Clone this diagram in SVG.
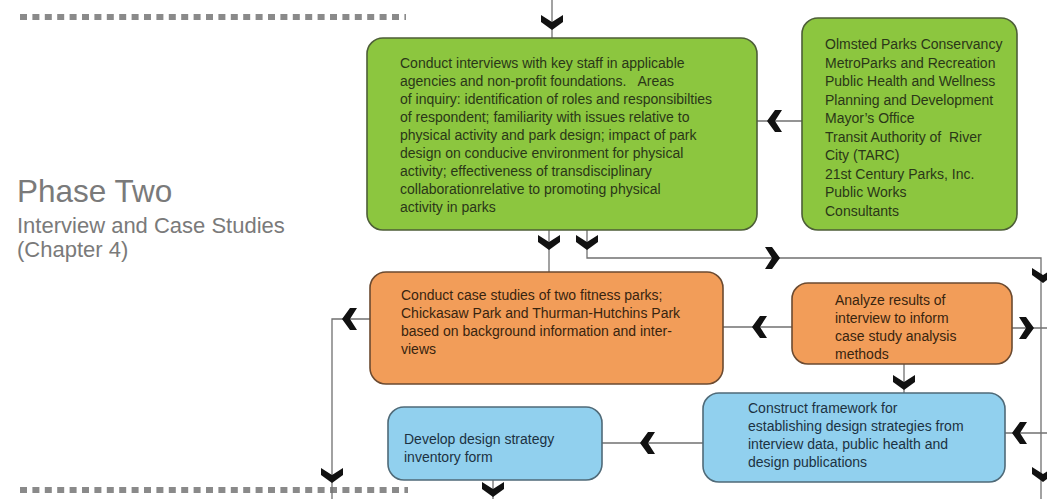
<svg xmlns="http://www.w3.org/2000/svg" xmlns:xlink="http://www.w3.org/1999/xlink" width="1047" height="499" viewBox="0 0 1047 499">
  <style>
    .conn { stroke:#707070; stroke-width:1.3; fill:none; }
    .chev { fill:#111; }
    .dots { stroke:#8a8a8a; stroke-width:6; stroke-dasharray:7 5.4; fill:none; }
    .box { stroke-width:1.6; }
    .green { fill:#8cc63f; stroke:#4d5e37; }
    .orange { fill:#f29d59; stroke:#6b4a30; }
    .blue { fill:#91d0ee; stroke:#4f6a78; }
    text { font-family:"Liberation Sans", Arial, sans-serif; font-size:14px; white-space:pre; }
    .tg { fill:#2a3718; }
    .to { fill:#38240f; }
    .tb { fill:#1c3242; }
    .title { fill:#7a7a7a; }
  </style>
  <defs>
    <path id="chev" d="M-11,-15 L0,-8 L11,-15 L11,-8 L0,0 L-11,-8 Z"/>
  </defs>
  <rect width="1047" height="499" fill="#ffffff"/>

  <g id="decor">
    <line class="dots" x1="20" y1="17" x2="406" y2="17"/>
    <line class="dots" x1="20" y1="490" x2="408" y2="490"/>
  </g>

  <g id="title">
    <text class="title" x="17" y="202" style="font-size:31.5px">Phase Two</text>
    <text class="title" x="17" y="233" style="font-size:22px">Interview and Case Studies</text>
    <text class="title" x="17" y="257" style="font-size:22px">(Chapter 4)</text>
  </g>

  <g id="connectors">
    <line class="conn" x1="552" y1="0" x2="552" y2="38"/>
    <line class="conn" x1="757" y1="121" x2="802" y2="121"/>
    <line class="conn" x1="549" y1="230" x2="549" y2="272"/>
    <polyline class="conn" points="587,230 587,258 1041,258 1041,499"/>
    <polyline class="conn" points="370,319 332,319 332,499"/>
    <line class="conn" x1="723" y1="327" x2="792" y2="327"/>
    <line class="conn" x1="1012" y1="328" x2="1047" y2="328"/>
    <line class="conn" x1="904" y1="364" x2="904" y2="393"/>
    <line class="conn" x1="1005" y1="433" x2="1047" y2="433"/>
    <line class="conn" x1="602" y1="443" x2="703" y2="443"/>
    <line class="conn" x1="493" y1="480" x2="493" y2="499"/>
    <use class="chev" href="#chev" transform="translate(552,30)"/>
    <use class="chev" href="#chev" transform="translate(767,121) rotate(90)"/>
    <use class="chev" href="#chev" transform="translate(549,250)"/>
    <use class="chev" href="#chev" transform="translate(587,250)"/>
    <use class="chev" href="#chev" transform="translate(780,258) rotate(-90)"/>
    <use class="chev" href="#chev" transform="translate(1043,283)"/>
    <use class="chev" href="#chev" transform="translate(1043,482)"/>
    <use class="chev" href="#chev" transform="translate(342,319) rotate(90)"/>
    <use class="chev" href="#chev" transform="translate(332,483)"/>
    <use class="chev" href="#chev" transform="translate(752,327) rotate(90)"/>
    <use class="chev" href="#chev" transform="translate(1034,328) rotate(-90)"/>
    <use class="chev" href="#chev" transform="translate(904,390)"/>
    <use class="chev" href="#chev" transform="translate(1012,433) rotate(90)"/>
    <use class="chev" href="#chev" transform="translate(640,443) rotate(90)"/>
    <use class="chev" href="#chev" transform="translate(493,497)"/>
  </g>

  <g id="interviews">
    <rect class="box green" x="367" y="38" width="390" height="192" rx="16"/>
    <text class="tg" x="400" y="68">Conduct interviews with key staff in applicable</text>
    <text class="tg" x="400" y="86">agencies and non-profit foundations.   Areas</text>
    <text class="tg" x="400" y="104">of inquiry: identification of roles and responsibilties</text>
    <text class="tg" x="400" y="122">of respondent; familiarity with issues relative to</text>
    <text class="tg" x="400" y="140">physical activity and park design; impact of park</text>
    <text class="tg" x="400" y="158">design on conducive environment for physical</text>
    <text class="tg" x="400" y="176">activity; effectiveness of transdisciplinary</text>
    <text class="tg" x="400" y="194">collaborationrelative to promoting physical</text>
    <text class="tg" x="400" y="212">activity in parks</text>
  </g>

  <g id="agencies">
    <rect class="box green" x="802" y="18" width="215" height="212" rx="16"/>
    <text class="tg" x="825" y="49">Olmsted Parks Conservancy</text>
    <text class="tg" x="825" y="67.5">MetroParks and Recreation</text>
    <text class="tg" x="825" y="86">Public Health and Wellness</text>
    <text class="tg" x="825" y="104.5">Planning and Development</text>
    <text class="tg" x="825" y="123">Mayor’s Office</text>
    <text class="tg" x="825" y="141.5">Transit Authority of  River</text>
    <text class="tg" x="825" y="160">City (TARC)</text>
    <text class="tg" x="825" y="178.5">21st Century Parks, Inc.</text>
    <text class="tg" x="825" y="197">Public Works</text>
    <text class="tg" x="825" y="215.5">Consultants</text>
  </g>

  <g id="case-studies">
    <rect class="box orange" x="370" y="272" width="353" height="112" rx="16"/>
    <text class="to" x="401" y="300">Conduct case studies of two fitness parks;</text>
    <text class="to" x="401" y="318">Chickasaw Park and Thurman-Hutchins Park</text>
    <text class="to" x="401" y="336">based on background information and inter-</text>
    <text class="to" x="401" y="354">views</text>
  </g>

  <g id="analyze">
    <rect class="box orange" x="792" y="283" width="220" height="81" rx="16"/>
    <text class="to" x="835" y="305">Analyze results of</text>
    <text class="to" x="835" y="323">interview to inform</text>
    <text class="to" x="835" y="341">case study analysis</text>
    <text class="to" x="835" y="359">methods</text>
  </g>

  <g id="framework">
    <rect class="box blue" x="703" y="393" width="302" height="89" rx="16"/>
    <text class="tb" x="748" y="413">Construct framework for</text>
    <text class="tb" x="748" y="431">establishing design strategies from</text>
    <text class="tb" x="748" y="449">interview data, public health and</text>
    <text class="tb" x="748" y="467">design publications</text>
  </g>

  <g id="inventory">
    <rect class="box blue" x="388" y="407" width="214" height="73" rx="16"/>
    <text class="tb" x="404" y="444">Develop design strategy</text>
    <text class="tb" x="404" y="462">inventory form</text>
  </g>
</svg>
